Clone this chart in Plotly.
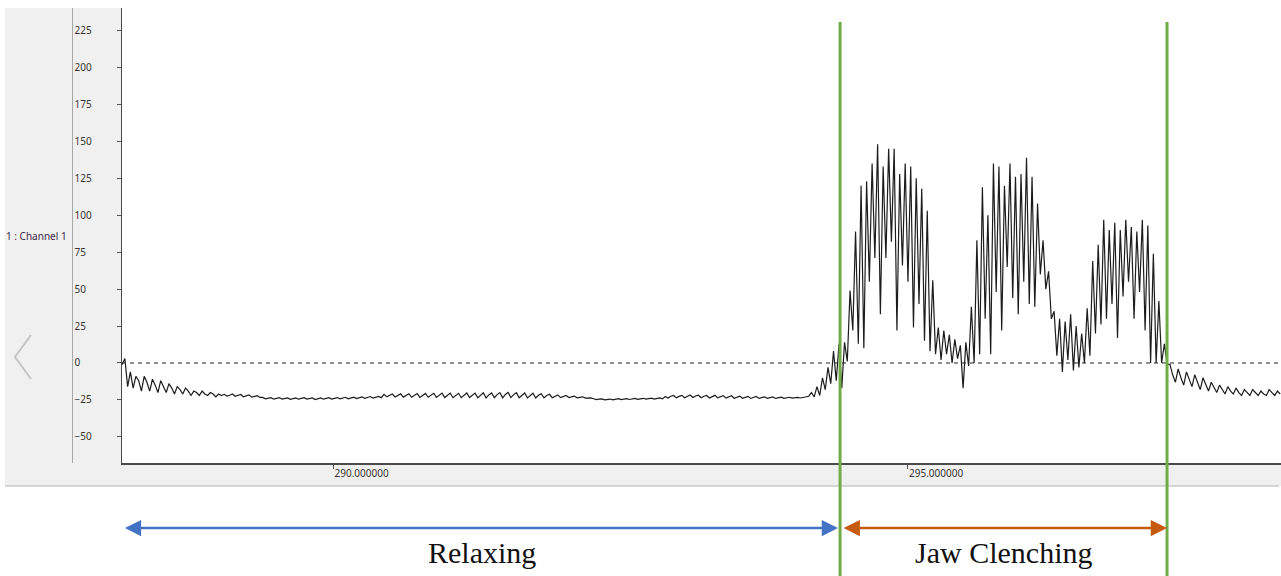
import plotly.graph_objects as go

W, H = 1281, 576

# ---------------- data ----------------
T0 = 288.162          # time of first sample (s)
DT = 0.024            # sample step (s)

onset = [-1, 3, -16, -6, -17, -9, -12, -19, -9, -13, -19, -11, -15, -20, -12, -16, -20,
         -14, -17, -21, -16, -18, -21, -17, -19, -22, -19, -20, -22, -19, -21, -22, -20,
         -21, -23, -21, -22]
baseline_a = [-21.2, -22.4, -21.8, -21.0, -22.5, -22.0, -21.3, -22.9, -22.2, -21.6, -23.1,
              -22.4, -22.1, -23.3]
baseline_b = [-23.3, -24.3, -23.8, -23.5, -24.5, -24.0, -23.4, -24.4, -23.9, -23.6, -24.6,
              -24.1, -23.7, -24.5, -24.0, -23.5, -24.4, -24.0, -23.7, -24.7, -24.2, -23.6,
              -24.5, -24.0, -23.5, -24.4, -23.9, -23.4, -24.3, -23.8, -23.2, -24.2, -23.7,
              -23.1, -24.1, -23.5, -22.9, -23.9, -23.3, -22.7, -23.7, -23.1, -22.6, -23.5]
baseline_c = [-21.2, -22.9, -22.0, -21.0, -23.0, -22.0, -20.9, -23.1, -21.9, -20.8, -23.2,
              -21.9, -20.7, -23.3, -21.8, -20.6, -23.2, -21.7, -20.5, -23.3, -21.7, -20.4,
              -23.4, -21.8, -20.4, -23.5, -21.9, -20.5, -23.5, -21.7, -20.3, -23.4, -21.6,
              -20.4]
baseline_d = [-23.6, -21.5, -20.1, -23.7, -21.6, -20.3, -23.5, -21.4, -20.0, -23.6, -21.3,
              -19.9, -23.4, -21.4, -20.1, -23.5, -21.6, -20.3, -23.6, -21.7, -20.5, -23.7,
              -21.9, -20.8, -23.6, -22.0, -21.2, -23.5, -22.3, -21.6, -23.4, -22.5, -21.9,
              -23.4, -22.7, -22.4, -23.6, -23.1, -22.9, -23.8, -23.5, -23.6]
baseline_e = [-24.2, -24.8, -24.5, -24.3, -24.9, -24.6, -24.4, -24.9, -24.5, -24.2, -24.8,
              -24.4, -24.1, -24.7, -24.3, -24.0, -24.6, -24.2, -23.9, -24.5, -24.1, -23.8,
              -24.4, -23.9, -23.6, -24.3]
baseline_f = [-22.7, -23.7, -22.5, -22.0, -23.6, -22.6, -21.9, -23.5, -22.4, -21.7, -23.4,
              -22.3, -21.8, -23.5, -22.5, -22.0, -23.7, -22.6, -21.9, -23.6, -22.7, -22.1,
              -23.8, -22.8, -22.2, -23.9, -22.9, -22.4, -23.9, -23.1, -22.6, -24.0, -23.2,
              -22.7, -24.0, -23.3, -22.9, -23.9, -23.4, -23.0, -24.0, -23.5, -23.1, -23.9,
              -23.5, -23.2, -23.8, -23.4, -23.3, -23.7, -23.3, -23.0]
pre_clench = [-22.5, -20, -23, -16, -22, -10, -18, -3, -14, 8, -12, 13, -17]

burst1_peaks = [14, 49, 89, 120, 123, 135, 148, 133, 145, 145, 128, 135, 133, 125, 118, 103, 56]
burst1_troughs = [1, 22, 13, 10, 55, 71, 33, 71, 82, 22, 66, 55, 24, 40, 15, 8, 6]
dip1_peaks = [24, 22, 19, 16, 12, 14]
dip1_troughs = [2, 6, 0, 3, -17, -2]
burst2_peaks = [38, 83, 119, 100, 135, 133, 120, 135, 126, 128, 139, 126, 108, 83, 62]
burst2_troughs = [0, 6, 30, 6, 48, 22, 65, 44, 33, 55, 40, 38, 60, 50, 30]
dip2_peaks = [35, 30, 28, 33, 25, 20]
dip2_troughs = [5, -6, 2, -5, -3, 0]
burst3_peaks = [37, 69, 80, 97, 90, 95, 90, 97, 92, 89, 97, 93, 74, 42, 13]
burst3_troughs = [5, 20, 26, 30, 40, 17, 45, 55, 30, 48, 22, 0, 0, 0, -1]

post = [-1, -8, -13, -4, -10, -15, -6, -11, -16, -8, -13, -18, -10, -15, -19, -13, -17, -20,
        -15, -18, -21, -16, -19, -21, -17, -20, -22, -18, -20, -22, -18, -20, -22, -19, -21,
        -22, -18, -20, -22, -19, -21]

EVENT_TIMES = [294.411, 297.257]          # green markers: start / end of clenching
PHASES = ["Relaxing", "Jaw Clenching"]
X_TICKS = [290, 295]
Y_TICKS = [-50, -25, 0, 25, 50, 75, 100, 125, 150, 175, 200, 225]
CHANNEL_LABEL = "1 : Channel 1"
X_RANGE = [288.161, 298.249]
Y_RANGE = [-67.9, 240.3]
ZERO_LEVEL = [0, 0]


def interleave(peaks, troughs):
    out = []
    for a, b in zip(peaks, troughs):
        out += [a, b]
    return out


signal = (onset + baseline_a + baseline_b + baseline_c + baseline_d + baseline_e + baseline_f
          + pre_clench
          + interleave(burst1_peaks, burst1_troughs)
          + interleave(dip1_peaks, dip1_troughs)
          + interleave(burst2_peaks, burst2_troughs)
          + interleave(dip2_peaks, dip2_troughs)
          + interleave(burst3_peaks, burst3_troughs)
          + post)
times = [T0 + i * DT for i in range(len(signal))]


def px(x):
    return x / W


def py(y):
    return 1 - y / H


fig = go.Figure()
# dashed zero reference line (on the labelled overlay axis)
fig.add_trace(go.Scatter(x=X_RANGE, y=ZERO_LEVEL, mode="lines", yaxis="y2",
                         line=dict(color="#222222", width=1, dash="4px,4px"),
                         hoverinfo="skip"))
fig.add_trace(go.Scatter(x=times, y=signal, mode="lines",
                         line=dict(color="#1c1c1c", width=1.2), hoverinfo="skip"))

tickfont = dict(family="Noto Sans, DejaVu Sans, sans-serif", size=10, color="#3a3530")

shapes = [
    # grey panel of the recording software
    dict(type="rect", xref="paper", yref="paper", x0=px(5), x1=1, y0=py(486), y1=py(8),
         fillcolor="#f0f0f0", line=dict(width=0), layer="below"),
    # white plotting area
    dict(type="rect", xref="paper", yref="paper", x0=px(122), x1=1, y0=py(463.3), y1=py(8),
         fillcolor="#ffffff", line=dict(width=0), layer="below"),
    # bottom border of grey panel
    dict(type="line", xref="paper", yref="paper", x0=px(5), x1=px(1279), y0=py(486), y1=py(486),
         line=dict(color="#b5b5b5", width=1), layer="below"),
    # left chevron
    dict(type="path", xref="paper", yref="paper",
         path=f"M {px(31)},{py(335)} L {px(15)},{py(357)} L {px(31)},{py(379)}",
         line=dict(color="#c4c4c4", width=2), layer="below"),
]
for t in EVENT_TIMES:
    shapes.append(dict(type="line", xref="x", yref="paper", x0=t, x1=t, y0=0, y1=py(22),
                       line=dict(color="#70AD47", width=3), layer="above"))

arrow_y = py(528)
text_y = py(552)
t_left = X_RANGE[0] + 0.012
annotations = [
    dict(text=CHANNEL_LABEL, xref="paper", yref="paper", x=px(4), y=py(236), xanchor="left",
         yanchor="middle", showarrow=False,
         font=dict(family="Noto Sans, DejaVu Sans, sans-serif", size=10, color="#3b2848")),
    # blue double arrow (relaxing)
    dict(text="", xref="x", yref="paper", x=EVENT_TIMES[0] - 0.018, y=arrow_y,
         axref="x", ayref="pixel", ax=t_left, ay=0, showarrow=True,
         arrowhead=2, startarrowhead=2, arrowside="end+start", arrowsize=1.3,
         startarrowsize=1.3, arrowwidth=2.5, arrowcolor="#4472C4", standoff=0, startstandoff=0),
    # orange double arrow (clenching)
    dict(text="", xref="x", yref="paper", x=EVENT_TIMES[1], y=arrow_y,
         axref="x", ayref="pixel", ax=EVENT_TIMES[0] + 0.018, ay=0, showarrow=True,
         arrowhead=2, startarrowhead=2, arrowside="end+start", arrowsize=1.3,
         startarrowsize=1.3, arrowwidth=2.5, arrowcolor="#C55A11", standoff=0, startstandoff=0),
    dict(text=PHASES[0], xref="x", yref="paper", x=(t_left + EVENT_TIMES[0]) / 2, y=text_y,
         xanchor="center", yanchor="middle", showarrow=False,
         font=dict(family="Liberation Serif, Times New Roman, serif", size=30, color="#111111")),
    dict(text=PHASES[1], xref="x", yref="paper", x=(EVENT_TIMES[0] + EVENT_TIMES[1]) / 2,
         y=text_y, xanchor="center", yanchor="middle", showarrow=False,
         font=dict(family="Liberation Serif, Times New Roman, serif", size=30, color="#111111")),
]

fig.update_layout(
    width=W, height=H,
    margin=dict(l=0, r=0, t=0, b=0),
    paper_bgcolor="#ffffff",
    plot_bgcolor="#ffffff",
    showlegend=False,
    hovermode=False,
    xaxis=dict(domain=[px(122), 1], range=X_RANGE, tickvals=X_TICKS, tickformat=".6f",
               ticks="outside", ticklen=4, tickcolor="#555555",
               ticklabelposition="outside right", tickfont=tickfont,
               showline=True, linecolor="#4a4a4a", linewidth=1.5,
               showgrid=False, zeroline=False, fixedrange=True),
    yaxis=dict(domain=[py(463.3), py(8)], range=Y_RANGE, tickvals=Y_TICKS,
               ticks="outside", ticklen=4, tickcolor="#555555", showticklabels=False,
               showline=True, linecolor="#4a4a4a", linewidth=1.5,
               showgrid=False, zeroline=False, fixedrange=True),
    yaxis2=dict(overlaying="y", anchor="free", position=px(71.5), side="right",
                range=Y_RANGE, tickvals=Y_TICKS, ticks="", showline=True,
                linecolor="#a8a8a8", linewidth=1, tickfont=tickfont, ticklabelstandoff=0,
                showgrid=False, zeroline=False, fixedrange=True),
    shapes=shapes,
    annotations=annotations,
)

fig.write_html("out.html", config={"displayModeBar": False, "staticPlot": True},
               post_script="document.body.style.margin='0px';")
